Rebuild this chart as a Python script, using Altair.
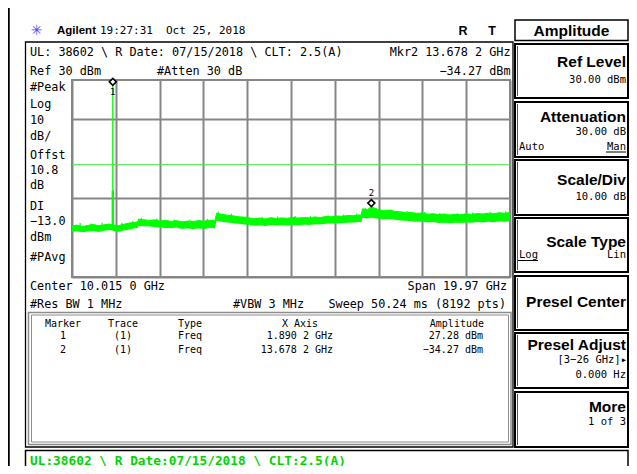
import altair as alt
import pandas as pd

start_ghz, stop_ghz = 0.03, 20.0
ref_dbm, bottom_dbm = 30.0, -70.0
display_line_dbm = -13.0

trace_freq = [0.03, 0.25, 0.5, 0.75, 1.0, 1.25, 1.5, 1.75, 1.86, 1.92,
              2.15, 2.4, 2.65, 2.9, 3.03, 3.06, 3.3, 3.55, 3.8, 4.05,
              4.3, 4.55, 4.8, 5.05, 5.3, 5.55, 5.8, 6.05, 6.3, 6.55,
              6.62, 6.85, 7.1, 7.35, 7.6, 7.85, 8.1, 8.35, 8.6, 8.85,
              9.1, 9.35, 9.6, 9.85, 10.1, 10.35, 10.6, 10.85, 11.1, 11.35,
              11.6, 11.85, 12.1, 12.35, 12.6, 12.85, 13.1, 13.22, 13.27, 13.5,
              13.68, 14.0, 14.25, 14.5, 14.75, 15.0, 15.25, 15.5, 15.75, 16.0,
              16.25, 16.5, 16.75, 17.0, 17.25, 17.5, 17.75, 18.0, 18.25, 18.5,
              18.75, 19.0, 19.25, 19.5, 19.75, 20.0]
trace_hi = [-44.2, -43.6, -44.4, -43.8, -43.3, -44.0, -43.5, -43.1, -43.4, -43.6,
            -43.9, -43.2, -42.6, -42.3, -42.0, -40.6, -40.9, -41.3, -41.0, -41.6,
            -41.2, -41.8, -41.4, -42.0, -41.6, -41.9, -41.3, -41.7, -41.2, -41.5,
            -37.6, -38.2, -38.6, -38.9, -39.4, -39.6, -40.0, -40.4, -40.1, -40.5,
            -39.9, -40.3, -40.0, -40.2, -39.7, -40.1, -39.8, -40.0, -39.5, -39.8,
            -39.3, -39.4, -39.0, -39.2, -38.8, -38.9, -38.5, -38.6, -35.4, -35.8,
            -34.3, -35.9, -36.2, -36.0, -36.7, -36.9, -37.4, -37.2, -37.7, -37.5,
            -38.1, -37.9, -38.3, -38.0, -38.5, -38.2, -38.4, -37.9, -38.2, -37.8,
            -38.0, -37.6, -37.9, -37.4, -37.6, -37.3]
trace_lo = [-47.0, -46.8, -47.3, -46.9, -46.6, -47.1, -46.5, -46.2, -46.3, -46.8,
            -47.0, -46.4, -45.9, -45.3, -45.1, -44.0, -44.4, -44.2, -44.7, -44.9,
            -45.1, -45.3, -44.9, -45.6, -45.2, -45.7, -45.3, -45.6, -45.0, -45.2,
            -41.4, -41.9, -42.3, -42.6, -43.0, -43.3, -43.5, -44.0, -43.8, -44.1,
            -43.6, -43.9, -43.7, -44.0, -43.5, -43.8, -43.4, -43.6, -43.2, -43.3,
            -43.0, -42.9, -42.8, -42.6, -42.5, -42.3, -42.1, -42.2, -40.0, -40.3,
            -39.9, -40.4, -40.6, -40.5, -41.0, -41.3, -41.5, -41.7, -41.9, -42.0,
            -42.3, -42.1, -42.6, -42.4, -42.7, -42.5, -42.6, -42.3, -42.4, -42.1,
            -42.3, -42.0, -42.2, -41.8, -42.0, -41.7]

# isolated noise peaks poking out of the band (GHz, dBm)
peak_freq = [0.4, 0.9, 1.4, 2.3, 2.8, 3.2, 3.9, 4.7, 5.4, 6.2,
             6.7, 7.3, 8.0, 8.7, 9.4, 10.2, 10.9, 11.7, 12.4, 13.0,
             13.4, 13.9, 14.6, 15.3, 16.1, 16.8, 17.6, 18.3, 19.1, 19.8]
peak_lvl = [-42.6, -42.9, -42.5, -42.4, -41.6, -40.0, -40.3, -40.9, -41.0, -40.6,
            -36.9, -37.9, -39.2, -39.6, -39.3, -39.0, -39.1, -38.6, -38.3, -37.8,
            -34.9, -35.1, -35.8, -36.5, -37.0, -37.5, -37.6, -37.3, -37.0, -36.8]

spike_freq = [1.8902]
spike_top = [27.28]
spike_base = [-44.5]
skirt_top = [-26.0]

marker_id = ["1", "2"]
marker_freq = [1.8902, 13.6782]
marker_amp = [27.28, -34.27]

# ---------------- helpers ----------------
MONO = "DejaVu Sans Mono"
SANS = "Liberation Sans"
X0, Y0 = 72, 80          # page position of the plot (graticule) origin
one = pd.DataFrame({"k": [0]})


def ghz(v):
    s = f"{v:.4f}"
    return s[:-1] + " " + s[-1] + " GHz"


def dbm(v):
    return f"{v:.2f}".replace("-", "\u2212") + " dBm"


def T(s, x, y, size=11.8, font=MONO, weight="normal", align="left", color="black"):
    return alt.Chart(one).mark_text(
        text=s, font=font, fontSize=size, fontWeight=weight, align=align,
        baseline="middle", color=color
    ).encode(x=alt.value(x - X0), y=alt.value(y - Y0))


def R(x1, y1, x2, y2, stroke="black", sw=1.5, fill=None):
    kw = dict(stroke=stroke, strokeWidth=sw)
    if fill is None:
        kw["fillOpacity"] = 0
    else:
        kw["fill"] = fill
    return alt.Chart(one).mark_rect(**kw).encode(
        x=alt.value(x1 - X0), x2=alt.value(x2 - X0),
        y=alt.value(y1 - Y0), y2=alt.value(y2 - Y0))


def H(x1, x2, y, color="black", sw=1):
    return alt.Chart(one).mark_rule(color=color, strokeWidth=sw).encode(
        x=alt.value(x1 - X0), x2=alt.value(x2 - X0), y=alt.value(y - Y0))


def V(x, y1, y2, color="black", sw=1):
    return alt.Chart(one).mark_rule(color=color, strokeWidth=sw).encode(
        x=alt.value(x - X0), y=alt.value(y1 - Y0), y2=alt.value(y2 - Y0))


# ---------------- frames / boxes ----------------
ui = []
ui.append(V(8.5, 8, 474, sw=2.5))                    # outer left border
ui.append(R(25.5, 42, 513, 447, sw=1.3))             # display frame
ui.append(R(28.5, 312.5, 511, 444.5, stroke="#8c8c8c", sw=1.5))
ui.append(R(31.5, 315, 508.5, 442, stroke="#8c8c8c", sw=1))
ui.append(R(515, 20, 628, 40.5, sw=1.5))
for (a, b) in [(44, 98), (102, 157), (160, 215), (218, 272),
               (276, 330), (333, 388), (392, 447)]:
    ui.append(R(515, a, 628, b, sw=2))
    ui.append(V(517.5, a + 2, b - 2, color="#555555", sw=1))
ui.append(R(25.5, 450.5, 628, 472, sw=1.5))

# ---------------- plot layers ----------------
xs = alt.Scale(domain=[start_ghz, stop_ghz], nice=False, zero=False)
ys = alt.Scale(domain=[bottom_dbm, ref_dbm], nice=False, zero=False)
grid_x = [start_ghz + i * (stop_ghz - start_ghz) / 10 for i in range(11)]
grid_y = [bottom_dbm + i * 10 for i in range(11)]
ax_x = alt.Axis(values=grid_x, grid=True, labels=False, ticks=False, domain=False, title=None)
ax_y = alt.Axis(values=grid_y, grid=True, labels=False, ticks=False, domain=False, title=None)

GREEN = "#00ff00"
trace_df = pd.DataFrame({"f": trace_freq, "hi": trace_hi, "lo": trace_lo})
band = alt.Chart(trace_df).mark_area(color=GREEN, opacity=1, interpolate="linear").encode(
    x=alt.X("f:Q", scale=xs, axis=ax_x),
    y=alt.Y("hi:Q", scale=ys, axis=ax_y),
    y2="lo:Q")
edge = alt.Chart(trace_df).mark_line(color=GREEN, strokeWidth=1).encode(
    x=alt.X("f:Q", scale=xs), y=alt.Y("hi:Q", scale=ys))

peak_df = pd.DataFrame({"f": peak_freq, "lvl": peak_lvl})
peaks = alt.Chart(peak_df).transform_calculate(base="datum.lvl - 3").mark_rule(
    color=GREEN, strokeWidth=1.2).encode(
    x=alt.X("f:Q", scale=xs), y=alt.Y("lvl:Q", scale=ys), y2="base:Q")

spike_df = pd.DataFrame({"f": spike_freq, "top": spike_top, "base": spike_base, "skirt": skirt_top})
spike = alt.Chart(spike_df).mark_rule(color=GREEN, strokeWidth=1.3).encode(
    x=alt.X("f:Q", scale=xs), y=alt.Y("top:Q", scale=ys), y2="base:Q")
skirt = alt.Chart(spike_df).mark_rule(color=GREEN, strokeWidth=2.4).encode(
    x=alt.X("f:Q", scale=xs), y=alt.Y("skirt:Q", scale=ys), y2="base:Q")

dl = alt.Chart(pd.DataFrame({"dl": [display_line_dbm]})).mark_rule(
    color="#3ce63c", strokeWidth=1).encode(y=alt.Y("dl:Q", scale=ys))

mk_df = pd.DataFrame({"id": marker_id, "f": marker_freq, "amp": marker_amp})
pts = alt.Chart(mk_df).mark_point(
    shape="diamond", size=49, filled=True, fill="white", stroke="black",
    strokeWidth=1.6, opacity=1, yOffset=-3.5).encode(
    x=alt.X("f:Q", scale=xs), y=alt.Y("amp:Q", scale=ys))
lab1 = alt.Chart(mk_df).transform_filter(alt.datum.id == "1").mark_text(
    font=MONO, fontSize=9, dy=7, baseline="middle").encode(
    x=alt.X("f:Q", scale=xs), y=alt.Y("amp:Q", scale=ys), text="id:N")
lab2 = alt.Chart(mk_df).transform_filter(alt.datum.id == "2").mark_text(
    font=MONO, fontSize=9, dy=-14, baseline="middle").encode(
    x=alt.X("f:Q", scale=xs), y=alt.Y("amp:Q", scale=ys), text="id:N")

# ---------------- texts ----------------
tx = []
tx.append(T("\u2733", 36.5, 30.5, size=14, font="DejaVu Sans", color="#4a4aff", align="center"))
tx.append(T("Agilent", 57, 30.5, size=11.5, font=SANS, weight="bold"))
tx.append(T("19:27:31", 100, 30.5, size=11))
tx.append(T("Oct 25, 2018", 166, 30.5, size=11))
tx.append(T("R", 463, 30.5, size=12.5, font=SANS, weight="bold", align="center"))
tx.append(T("T", 492, 30.5, size=12.5, font=SANS, weight="bold", align="center"))

tx.append(T("UL: 38602 \\ R Date: 07/15/2018 \\ CLT: 2.5(A)", 30, 51.7))
tx.append(T("Mkr2  " + ghz(marker_freq[1]), 510.5, 51.7, align="right"))
tx.append(T("Ref 30 dBm", 30, 71.3))
tx.append(T("#Atten 30 dB", 157, 71.3))
tx.append(T(dbm(marker_amp[1]), 510.5, 71.3, align="right"))

for s, y in [("#Peak", 87), ("Log", 103.5), ("10", 119.5), ("dB/", 135.5),
             ("Offst", 154.5), ("10.8", 169.5), ("dB", 184.7), ("DI", 206),
             ("\u221213.0", 221.3), ("dBm", 237), ("#PAvg", 257)]:
    tx.append(T(s, 30, y))

tx.append(T("Center 10.015 0 GHz", 30, 286))
tx.append(T("Span 19.97 GHz", 507, 286, align="right"))
tx.append(T("#Res BW 1 MHz", 30, 303.5))
tx.append(T("#VBW 3 MHz", 233, 303.5))
tx.append(T("Sweep 50.24 ms (8192 pts)", 506, 303.5, align="right"))

TS = 10
tx.append(T("Marker", 63, 324, size=TS, align="center"))
tx.append(T("Trace", 123, 324, size=TS, align="center"))
tx.append(T("Type", 178, 324, size=TS))
tx.append(T("X Axis", 318, 324, size=TS, align="right"))
tx.append(T("Amplitude", 484, 324, size=TS, align="right"))
for i, (m, f, a) in enumerate(zip(marker_id, marker_freq, marker_amp)):
    y = 336 + 14 * i
    tx.append(T(m, 63, y, size=TS, align="center"))
    tx.append(T("(1)", 123, y, size=TS, align="center"))
    tx.append(T("Freq", 178, y, size=TS))
    tx.append(T(ghz(f), 333, y, size=TS, align="right"))
    tx.append(T(dbm(a), 483, y, size=TS, align="right"))

BS = 15.5
SS = 10.5
tx.append(T("Amplitude", 571.5, 30.5, size=BS, font=SANS, weight="bold", align="center"))
tx.append(T("Ref Level", 626, 61.5, size=BS, font=SANS, weight="bold", align="right"))
tx.append(T("30.00 dBm", 626, 79.5, size=SS, align="right"))
tx.append(T("Attenuation", 626, 116.5, size=BS, font=SANS, weight="bold", align="right"))
tx.append(T("30.00 dB", 626, 131.5, size=SS, align="right"))
tx.append(T("Auto", 519, 146.5, size=SS))
tx.append(T("Man", 626, 146.5, size=SS, align="right"))
tx.append(H(606, 626, 152))
tx.append(T("Scale/Div", 626, 180, size=BS, font=SANS, weight="bold", align="right"))
tx.append(T("10.00 dB", 626, 196.5, size=SS, align="right"))
tx.append(T("Scale Type", 626, 241.5, size=BS, font=SANS, weight="bold", align="right"))
tx.append(T("Log", 519, 255, size=SS))
tx.append(H(518, 538, 260.5))
tx.append(T("Lin", 626, 255, size=SS, align="right"))
tx.append(T("Presel Center", 626, 301.5, size=BS, font=SANS, weight="bold", align="right"))
tx.append(T("Presel Adjust", 626, 345, size=BS, font=SANS, weight="bold", align="right"))
tx.append(T("[3\u221226 GHz]\u25b8", 627, 360, size=SS, align="right"))
tx.append(T("0.000  Hz", 626, 375, size=SS, align="right"))
tx.append(T("More", 626, 406.5, size=BS, font=SANS, weight="bold", align="right"))
tx.append(T("1 of 3", 626, 421.5, size=SS, align="right"))

tx.append(T("UL:38602 \\ R Date:07/15/2018 \\ CLT:2.5(A)", 30, 460.5, size=12.8,
            weight="bold", color="#00d400"))

chart = alt.layer(
    *ui, band, edge, peaks, skirt, spike, dl, pts, lab1, lab2, *tx
).properties(
    width=438, height=197,
    padding={"left": 64, "top": 72, "right": 119, "bottom": 189},
    autosize=alt.AutoSizeParams(type="none"),
    background="white",
).configure_view(
    stroke="#868686", strokeWidth=2
).configure_axis(
    gridColor="#868686", gridWidth=2, gridOpacity=1
)

chart.save("out.html", embed_options={"renderer": "svg", "actions": False})
